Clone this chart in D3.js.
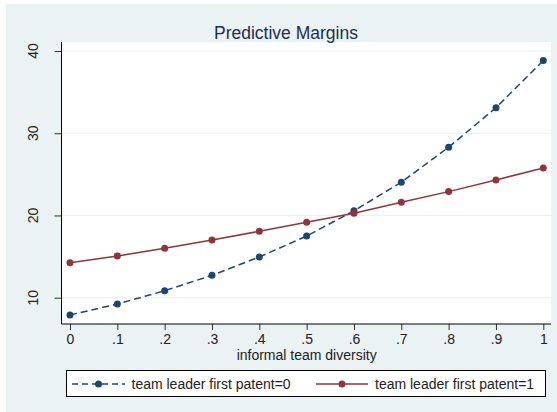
<!DOCTYPE html>
<html>
<head>
<meta charset="utf-8">
<script src="https://cdn.jsdelivr.net/npm/d3@7"></script>
<style>
  body { margin: 0; background: #fff; }
  svg { display: block; font-family: "Liberation Sans", Arial, sans-serif; }
</style>
</head>
<body>
<div id="chart"></div>
<script>
// values
const diversity = [0, .1, .2, .3, .4, .5, .6, .7, .8, .9, 1];
const firstPatent0 = [7.9, 9.23, 10.85, 12.72, 14.95, 17.5, 20.57, 24.04, 28.3, 33.1, 38.83];
const firstPatent1 = [14.26, 15.07, 16.0, 17.02, 18.08, 19.17, 20.27, 21.6, 22.9, 24.32, 25.78];
const xTickLabels = ["0", ".1", ".2", ".3", ".4", ".5", ".6", ".7", ".8", ".9", "1"];
const yTicks = [10, 20, 30, 40];
const seriesNames = ["team leader first patent=0", "team leader first patent=1"];

const width = 557, height = 412;
const blue = "#1a476f", red = "#90353b", bg = "#eaf2f3";
const fs = 14;

const svg = d3.select("#chart").append("svg")
    .attr("width", width)
    .attr("height", height);

svg.append("rect")
    .attr("x", 6).attr("y", 4)
    .attr("width", width - 6).attr("height", height - 4)
    .attr("fill", bg);

const plot = { left: 61.5, right: 551, top: 42, bottom: 324 };

svg.append("rect")
    .attr("x", plot.left).attr("y", plot.top)
    .attr("width", plot.right - plot.left).attr("height", plot.bottom - plot.top)
    .attr("fill", "white");

const x = d3.scaleLinear().domain([0, 1]).range([70, 543.3]);
const y = d3.scaleLinear().domain([10, 40]).range([297.7, 51]);

// grid lines
svg.append("g").selectAll("line")
    .data(yTicks)
    .enter().append("line")
    .attr("x1", plot.left).attr("x2", plot.right)
    .attr("y1", d => y(d)).attr("y2", d => y(d))
    .attr("stroke", bg).attr("stroke-width", 1.2);

// y axis
const yAxis = svg.append("g")
    .attr("transform", `translate(${plot.left},0)`)
    .call(d3.axisLeft(y).tickValues(yTicks).tickSize(7).tickSizeOuter(0).tickFormat(""));
yAxis.select(".domain").remove();
yAxis.selectAll(".tick line").attr("stroke", "#333");
svg.append("line")
    .attr("x1", plot.left).attr("x2", plot.left)
    .attr("y1", plot.top).attr("y2", plot.bottom)
    .attr("stroke", "black");

svg.append("g").selectAll("text")
    .data(yTicks)
    .enter().append("text")
    .attr("transform", d => `translate(38,${y(d)}) rotate(-90)`)
    .attr("text-anchor", "middle")
    .attr("font-size", fs)
    .attr("fill", "#222")
    .text(d => d);

// x axis
const xAxis = svg.append("g")
    .attr("transform", `translate(0,${plot.bottom})`)
    .call(d3.axisBottom(x).tickValues(diversity).tickSize(6).tickSizeOuter(0)
        .tickFormat((d, i) => xTickLabels[i]));
xAxis.select(".domain").remove();
xAxis.selectAll(".tick line").attr("stroke", "#333");
xAxis.selectAll(".tick text")
    .attr("y", 10)
    .attr("font-size", fs)
    .attr("font-family", "Liberation Sans, Arial, sans-serif")
    .attr("fill", "#222");
svg.append("line")
    .attr("x1", plot.left).attr("x2", plot.right)
    .attr("y1", plot.bottom).attr("y2", plot.bottom)
    .attr("stroke", "black");

svg.append("text")
    .attr("x", (x(0) + x(1)) / 2).attr("y", 359.5)
    .attr("text-anchor", "middle")
    .attr("font-size", fs)
    .attr("fill", "#222")
    .text("informal team diversity");

// title
svg.append("text")
    .attr("x", 286).attr("y", 38.5)
    .attr("text-anchor", "middle")
    .attr("font-size", 17.5)
    .attr("fill", "#1e2d55")
    .text("Predictive Margins");

// series
const line = d3.line().x((d, i) => x(diversity[i])).y(d => y(d));

const series = [
    { values: firstPatent0, color: blue, dash: "7,4" },
    { values: firstPatent1, color: red, dash: null }
];

series.forEach(function(s) {
    svg.append("path")
        .datum(s.values)
        .attr("d", line)
        .attr("fill", "none")
        .attr("stroke", s.color)
        .attr("stroke-width", 1.5)
        .attr("stroke-dasharray", s.dash);
    svg.append("g").selectAll("circle")
        .data(s.values)
        .enter().append("circle")
        .attr("cx", (d, i) => x(diversity[i]))
        .attr("cy", d => y(d))
        .attr("r", 3.5)
        .attr("fill", s.color);
});

// legend
svg.append("rect")
    .attr("x", 66.5).attr("y", 370.5)
    .attr("width", 479).attr("height", 26)
    .attr("fill", "white")
    .attr("stroke", "black");

const legendPos = [{ x1: 72, x2: 125, tx: 131.5 }, { x1: 316, x2: 368, tx: 375 }];
series.forEach(function(s, i) {
    const p = legendPos[i];
    svg.append("line")
        .attr("x1", p.x1).attr("x2", p.x2)
        .attr("y1", 384).attr("y2", 384)
        .attr("stroke", s.color)
        .attr("stroke-width", 1.5)
        .attr("stroke-dasharray", s.dash ? "6,4" : null);
    svg.append("circle")
        .attr("cx", (p.x1 + p.x2) / 2).attr("cy", 384)
        .attr("r", 3.5)
        .attr("fill", s.color);
    svg.append("text")
        .attr("x", p.tx).attr("y", 389)
        .attr("font-size", fs)
        .attr("fill", "#222")
        .text(seriesNames[i]);
});
</script>
</body>
</html>
